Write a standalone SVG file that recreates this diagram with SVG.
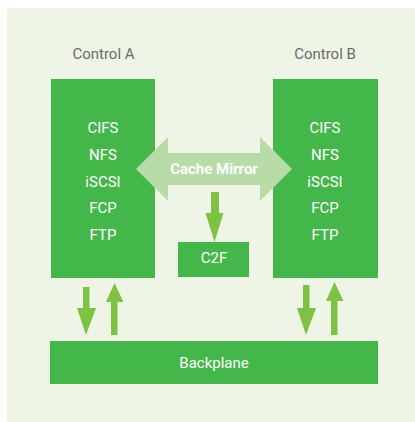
<svg xmlns="http://www.w3.org/2000/svg" width="415" height="422" viewBox="0 0 415 422">
<style>
.box{fill:#44b74a}
.t{font-family:Roboto,"Liberation Sans",sans-serif;font-size:15px;fill:#ffffff;text-anchor:middle}
.lbl{font-family:Roboto,"Liberation Sans",sans-serif;font-size:15px;fill:#6b6b6b;text-anchor:middle}
.arr{fill:#7dc242}
</style>
<rect x="7" y="8" width="408" height="414" fill="#eef5e6"/>
<g id="controlA">
<text class="lbl" x="103.5" y="59">Control A</text>
<rect class="box" x="51" y="79" width="104" height="199"/>
<text class="t" x="103" y="133">CIFS</text>
<text class="t" x="103" y="160">NFS</text>
<text class="t" x="103" y="187">iSCSI</text>
<text class="t" x="103" y="213">FCP</text>
<text class="t" x="103" y="240">FTP</text>
</g>
<g id="controlB">
<text class="lbl" x="325" y="59">Control B</text>
<rect class="box" x="273" y="79" width="105" height="199"/>
<text class="t" x="325" y="133">CIFS</text>
<text class="t" x="325" y="160">NFS</text>
<text class="t" x="325" y="187">iSCSI</text>
<text class="t" x="325" y="213">FCP</text>
<text class="t" x="325" y="240">FTP</text>
</g>
<g id="c2f">
<rect class="box" x="178" y="242" width="71" height="35"/>
<text class="t" x="214" y="263">C2F</text>
</g>
<g id="backplane">
<rect class="box" x="50" y="341" width="328" height="43"/>
<text class="t" x="214" y="368">Backplane</text>
</g>
<g id="connectors">
<g id="cacheMirror">
<polygon fill="#b8dba8" points="136,169 168,137 168,153 260,153 260,137 292,169 260,201 260,185 168,185 168,201"/>
<text x="214" y="174" font-family="Roboto,'Liberation Sans',sans-serif" font-size="15" font-weight="bold" fill="#ffffff" text-anchor="middle">Cache Mirror</text>
</g>
<polygon class="arr" points="211,192 219,192 219,213 223.5,213 214.5,242 205.5,213 211,213"/>
<polygon class="arr" points="83,287 89.5,287 89.5,308 96,308 86,335 77,308 83,308"/>
<polygon class="arr" points="111,335 117.5,335 117.5,302 123.5,302 114.5,283 106,302 111,302"/>
<polygon class="arr" points="303,285 309.5,285 309.5,308 316,308 306,335 297,308 303,308"/>
<polygon class="arr" points="331,335 337.5,335 337.5,301 343.5,301 334.5,282 326,301 331,301"/>
</g>
</svg>
